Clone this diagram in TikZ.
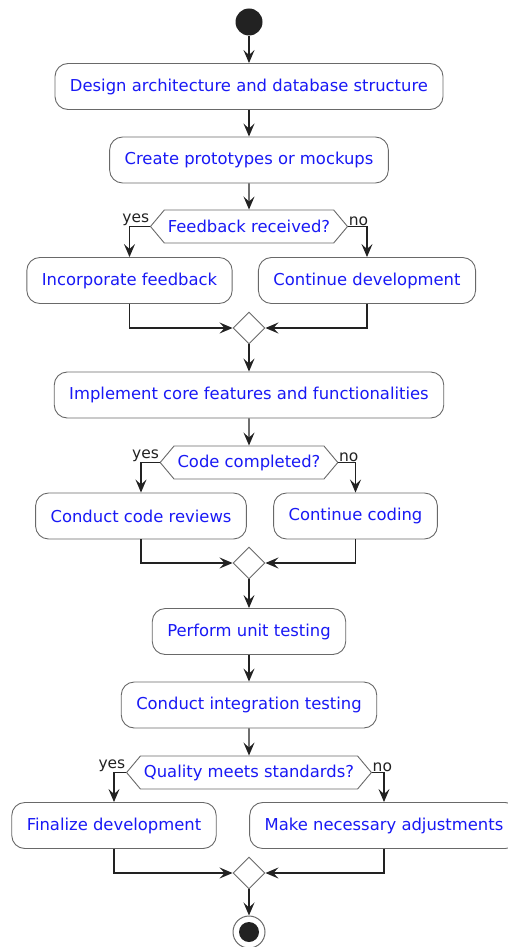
\documentclass[tikz,border=0pt]{standalone}
\usepackage{fontspec}
\setmainfont{DejaVu Sans}
\usetikzlibrary{arrows.meta,shapes.geometric,shapes.symbols}
\definecolor{actblue}{RGB}{25,25,245}
\definecolor{rim}{RGB}{105,105,105}
\definecolor{ink}{RGB}{34,34,34}
\tikzset{>={Stealth[length=13pt,width=11pt,inset=5pt]},every node/.style={font=\fontsize{16.4}{20}\selectfont},
act/.style={rectangle,rounded corners=13pt,draw=rim,line width=.9pt,fill=white,text=actblue,minimum height=46pt,inner xsep=15pt},
choice/.style={signal,signal to=west and east,signal pointer angle=100,draw=rim,line width=.9pt,fill=white,text=actblue,minimum height=33pt,inner xsep=3.5pt},
merge/.style={diamond,draw=rim,line width=.9pt,fill=white,minimum width=32pt,minimum height=32pt,inner sep=0pt},
flow/.style={->,draw=ink,line width=1.3pt},lbl/.style={font=\fontsize{15.5}{18}\selectfont,text=ink,inner sep=.5pt}}

\begin{document}
\begin{tikzpicture}[x=1pt,y=-1pt]
\useasboundingbox (0,0) rectangle (508,947);
\node[circle,fill=ink,minimum size=27pt,inner sep=0pt] (start) at (249,22) {};
\node[act] (design) at (249,86.5) {Design architecture and database structure};
\node[act] (proto) at (249,160) {Create prototypes or mockups};
\node[choice] (feedback) at (249,226.5) {Feedback received?};
\node[lbl,anchor=south east] at (feedback.west) {yes};
\node[lbl,anchor=south west] at (feedback.east) {no};
\node[act] (incorp) at (129.5,280.5) {Incorporate feedback};
\node[act] (contdev) at (367,280.5) {Continue development};
\node[merge] (join1) at (249,328) {};
\node[act] (core) at (249,395) {Implement core features and functionalities};
\node[choice] (done) at (249,462.5) {Code completed?};
\node[lbl,anchor=south east] at (done.west) {yes};
\node[lbl,anchor=south west] at (done.east) {no};
\node[act] (review) at (141,516) {Conduct code reviews};
\node[act] (contcode) at (355.5,516) {Continue coding};
\node[merge] (join2) at (249,563) {};
\node[act] (unit) at (249,631.5) {Perform unit testing};
\node[act] (integ) at (249,705) {Conduct integration testing};
\node[choice] (quality) at (249,772.5) {Quality meets standards?};
\node[lbl,anchor=south east] at (quality.west) {yes};
\node[lbl,anchor=south west] at (quality.east) {no};
\node[act] (final) at (114,825.5) {Finalize development};
\node[act] (adjust) at (384,825.5) {Make necessary adjustments};
\node[merge] (join3) at (249,873) {};
\node[circle,draw=rim,fill=white,line width=1pt,minimum size=32pt,inner sep=0pt,
 path picture={\fill[ink] (path picture bounding box.center) circle (10pt);}] (stop) at (249,932) {};

\draw[flow] (start) -- (design);
\draw[flow] (design) -- (proto);
\draw[flow] (proto) -- (feedback);
\draw[flow] (feedback.west) -| (incorp.north);
\draw[flow] (feedback.east) -| (contdev.north);
\draw[flow] (incorp.south) |- (join1.west);
\draw[flow] (contdev.south) |- (join1.east);
\draw[flow] (join1) -- (core);
\draw[flow] (core) -- (done);
\draw[flow] (done.west) -| (review.north);
\draw[flow] (done.east) -| (contcode.north);
\draw[flow] (review.south) |- (join2.west);
\draw[flow] (contcode.south) |- (join2.east);
\draw[flow] (join2) -- (unit);
\draw[flow] (unit) -- (integ);
\draw[flow] (integ) -- (quality);
\draw[flow] (quality.west) -| (final.north);
\draw[flow] (quality.east) -| (adjust.north);
\draw[flow] (final.south) |- (join3.west);
\draw[flow] (adjust.south) |- (join3.east);
\draw[flow] (join3) -- (stop);
\end{tikzpicture}
\end{document}
